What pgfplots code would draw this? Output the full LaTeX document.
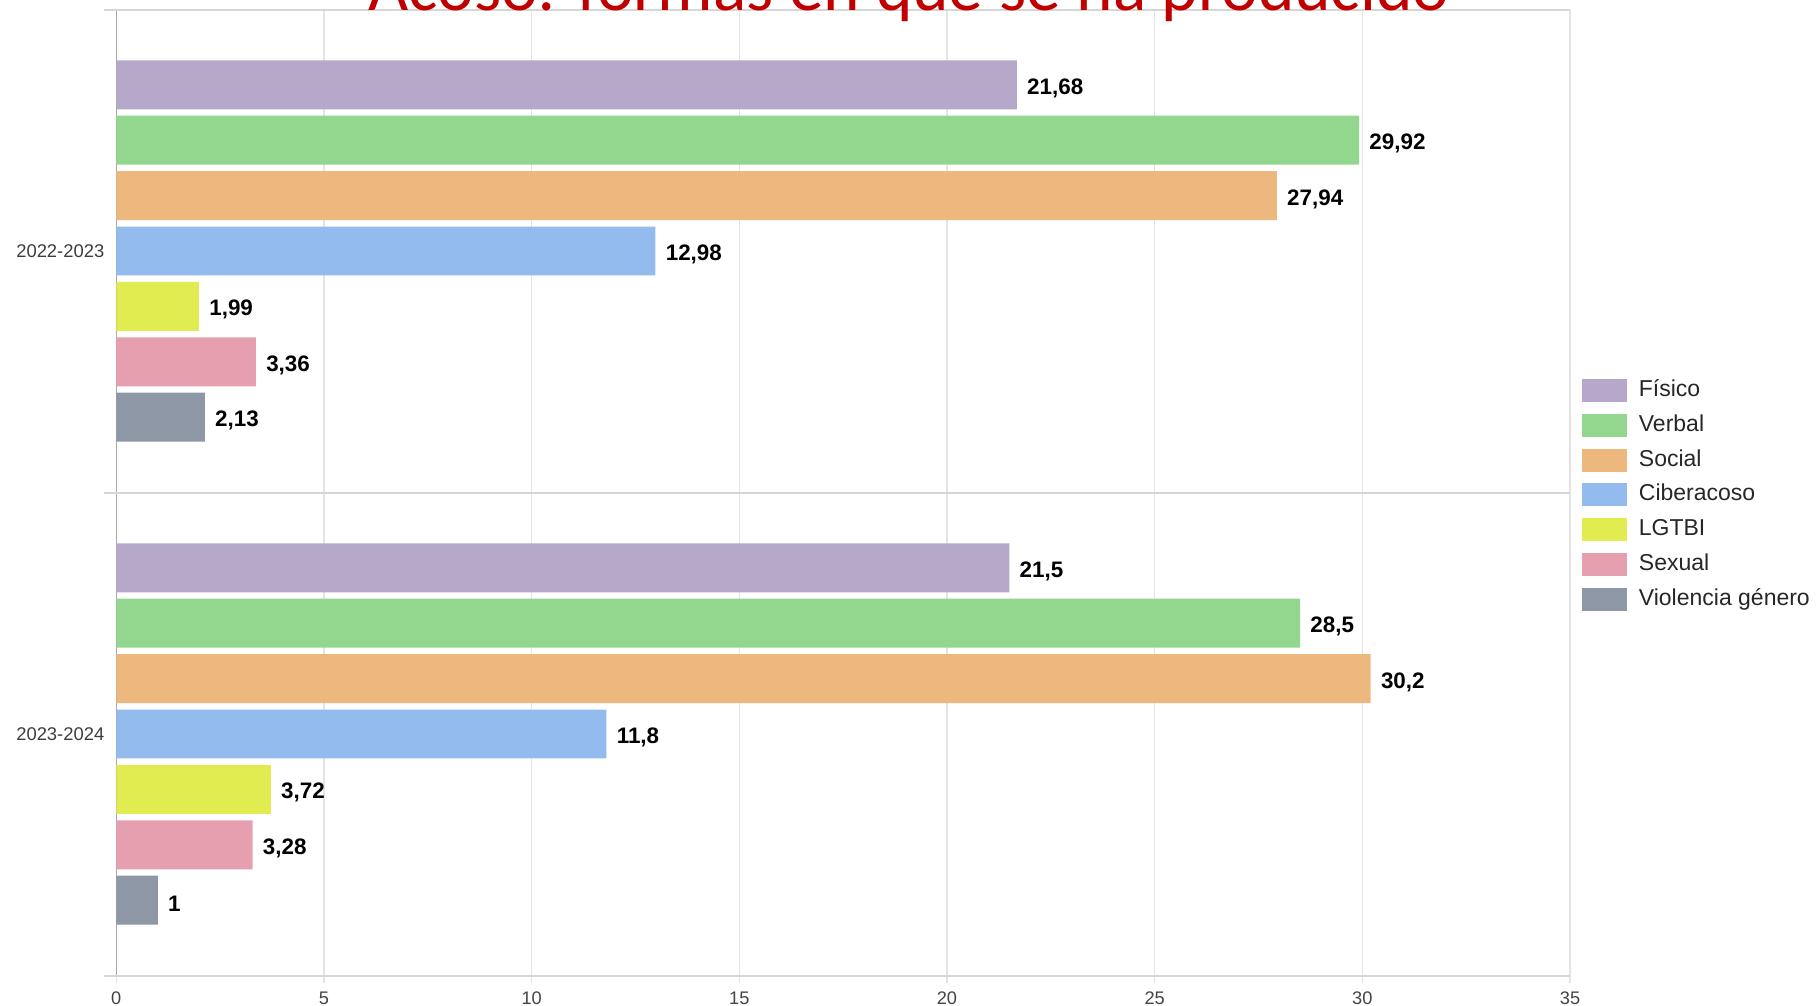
\documentclass[border=0pt]{standalone}
\usepackage{fontspec}
\setmainfont{Liberation Sans}
\newfontfamily\titlefont{Carlito}
\usepackage{pgfplots}
\pgfplotsset{compat=1.18}
\definecolor{cFis}{HTML}{B5A8C9}
\definecolor{cVer}{HTML}{93D78F}
\definecolor{cSoc}{HTML}{EDB87D}
\definecolor{cCib}{HTML}{94BBEE}
\definecolor{cLGT}{HTML}{E0EC50}
\definecolor{cSex}{HTML}{E69FAF}
\definecolor{cVio}{HTML}{8D97A6}
\definecolor{cGrid}{HTML}{E4E4E4}
\definecolor{cLine}{HTML}{D6D6D6}
\definecolor{cAxis}{HTML}{A8A8A8}
\definecolor{cTitle}{HTML}{C00000}
\definecolor{cTick}{HTML}{444444}
\pgfplotsset{sw/.style={legend image code/.code={\fill[##1,draw=none] (0pt,-5.75pt) rectangle (22.5pt,5.75pt);}}}
\begin{document}
\begin{tikzpicture}
\path[use as bounding box] (0,0) rectangle (908pt,503pt);
\begin{axis}[
  at={(58.15pt,15.25pt)}, anchor=south west, scale only axis,
  width=726.85pt, height=483pt,
  xmin=0, xmax=35, ymin=-0.5, ymax=1.5, y dir=reverse,
  xbar, bar width=0.1014,
  axis line style={draw=none},
  /pgf/number format/assume math mode=true,
  xtick={5,10,...,35}, xmajorgrids,
  major grid style={draw=cGrid, line width=0.6pt},
  major tick length=3.5pt, tick align=outside,
  x tick style={draw=cGrid, line width=0.6pt},
  xtick pos=bottom, ytick pos=left,
  xticklabel style={font=\fontsize{9.1pt}{11pt}\selectfont, text=cTick, inner sep=0pt, yshift=-4.3pt},
  ytick={0,1}, yticklabels={2022-2023,2023-2024},
  y tick style={draw=none},
  yticklabel style={font=\fontsize{9.2pt}{11pt}\selectfont, text=cTick!90!black, inner sep=0pt, xshift=-2.3pt},
  extra x ticks={0}, extra x tick labels={0},
  extra x tick style={major grid style={draw=cAxis, line width=0.6pt}, x tick style={draw=cGrid}},
  extra y ticks={-0.5,0.5,1.5}, extra y tick labels={},
  extra y tick style={ymajorgrids=true, major grid style={draw=cLine, line width=1pt}, major tick length=6pt, y tick style={draw=cLine, line width=1pt}},
  point meta=x,
  nodes near coords={\pgfmathprintnumber[use comma,precision=2]{\pgfplotspointmeta}},
  every node near coord/.append style={font=\bfseries\fontsize{11.2pt}{13pt}\selectfont, text=black, inner sep=0pt, anchor=west, xshift=5pt, yshift=-1.7pt},
  legend style={at={(axis description cs:1.0082,0.6176)}, anchor=north west, draw=none, fill=none, inner sep=0pt, outer sep=0pt,
    font=\fontsize{11.5pt}{13pt}\selectfont, text=black!85, row sep=5.9pt,
    nodes={inner sep=0pt, text height=8.5pt, text depth=2.5pt},
    /tikz/every odd column/.append style={column sep=6pt}},
  legend cell align=left,
]
\addplot[draw=none, fill=cFis, bar shift=-0.3441, sw] coordinates {(21.68,0) (21.5,1)};
\addlegendentry{Físico}
\addplot[draw=none, fill=cVer, bar shift=-0.2294, sw] coordinates {(29.92,0) (28.5,1)};
\addlegendentry{Verbal}
\addplot[draw=none, fill=cSoc, bar shift=-0.1147, sw] coordinates {(27.94,0) (30.2,1)};
\addlegendentry{Social}
\addplot[draw=none, fill=cCib, bar shift=0, sw] coordinates {(12.98,0) (11.8,1)};
\addlegendentry{Ciberacoso}
\addplot[draw=none, fill=cLGT, bar shift=0.1147, sw] coordinates {(1.99,0) (3.72,1)};
\addlegendentry{LGTBI}
\addplot[draw=none, fill=cSex, bar shift=0.2294, sw] coordinates {(3.36,0) (3.28,1)};
\addlegendentry{Sexual}
\addplot[draw=none, fill=cVio, bar shift=0.3441, sw] coordinates {(2.13,0) (1,1)};
\addlegendentry{Violencia género}
\end{axis}
\node[font=\titlefont\fontsize{34.7pt}{40pt}\selectfont, text=cTitle, anchor=base, inner sep=0pt] at (454.5pt,497.75pt) {Acoso: formas en que se ha producido};
\end{tikzpicture}
\end{document}
